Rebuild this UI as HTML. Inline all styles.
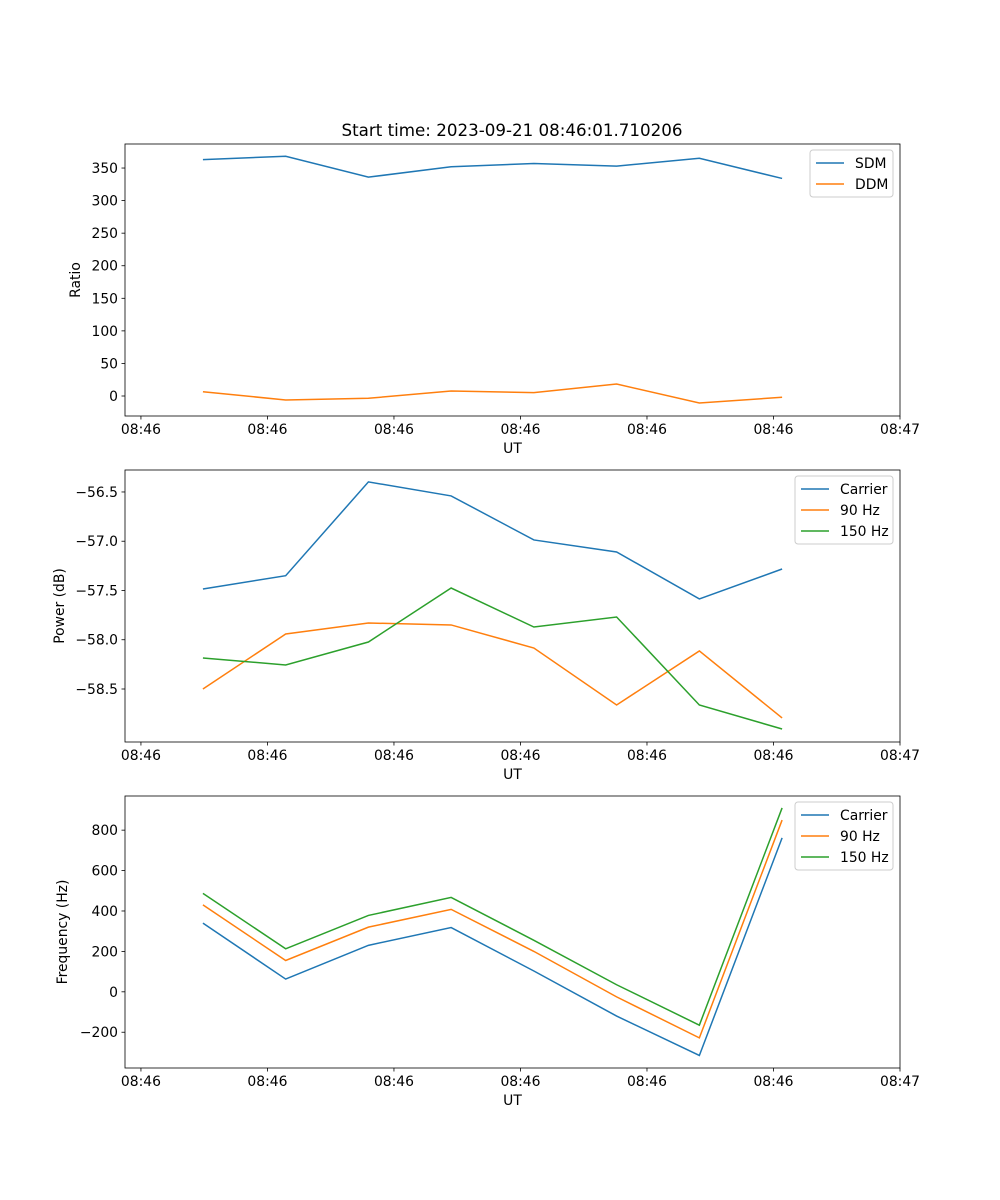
<!DOCTYPE html>
<html><head><meta charset="utf-8"><style>
body{margin:0;background:#fff}
svg{display:block}
text{font-family:"DejaVu Sans","Liberation Sans",sans-serif;font-size:13.9px;fill:#000}
</style></head><body>
<svg id="fig" width="1000" height="1200"></svg>
<script>
const times=[4.9,11.44,17.98,24.52,31.06,37.6,44.14,50.68];
const xTickVals=[0,10,20,30,40,50,60];
const xTickLabels=["08:46","08:46","08:46","08:46","08:46","08:46","08:47"];
const sdm=[363,368,336,352,357,353,365,334];
const ddm=[6.6,-6.1,-3.5,7.7,5.1,18.4,-10.7,-2.0];
const pCarrier=[-57.485,-57.350,-56.398,-56.540,-56.987,-57.109,-57.586,-57.282];
const p90=[-58.500,-57.942,-57.830,-57.850,-58.084,-58.662,-58.114,-58.794];
const p150=[-58.185,-58.256,-58.023,-57.475,-57.871,-57.769,-58.662,-58.906];
const fCarrier=[340,63,230,318,103,-120,-315,762];
const f90=[430,155,320,408,200,-25,-228,850];
const f150=[487,213,378,467,255,35,-165,910];
const ticks1=[0,50,100,150,200,250,300,350];
const ticks1Labels=["0","50","100","150","200","250","300","350"];
const ticks2=[-56.5,-57,-57.5,-58,-58.5];
const ticks2Labels=["\u221256.5","\u221257.0","\u221257.5","\u221258.0","\u221258.5"];
const ticks3=[-200,0,200,400,600,800];
const ticks3Labels=["\u2212200","0","200","400","600","800"];

const NS="http://www.w3.org/2000/svg";
const svg=document.getElementById('fig');
function mk(tag,attrs,parent){const e=document.createElementNS(NS,tag);for(const k in attrs)e.setAttribute(k,attrs[k]);(parent||svg).appendChild(e);return e;}
const L=125,R=900,XMIN=-1.26,XMAX=60;
const xs=t=>L+(t-XMIN)/(XMAX-XMIN)*(R-L);
const C=['#1f77b4','#ff7f0e','#2ca02c'];

function panel(name,top,bot,ymin,ymax,series,labels,yt,ytl,ylabel,legX,legW){
  const g=mk('g',{});
  
  
  const ys=v=>bot-(v-ymin)/(ymax-ymin)*(bot-top);
  series.forEach((s,i)=>{
    const p=mk('polyline',{points:s.map((v,j)=>xs(times[j])+','+ys(v)).join(' '),fill:'none',stroke:C[i],'stroke-width':1.5},g);
    
    
  });
  const fr=mk('rect',{x:L,y:top,width:R-L,height:bot-top,fill:'none',stroke:'#000','stroke-width':0.8},g);
  
  
  xTickVals.forEach((t,i)=>{const x=xs(t);mk('line',{x1:x,x2:x,y1:bot,y2:bot+3.5,stroke:'#000','stroke-width':0.8},g);
    const tx=mk('text',{x:x,y:bot+18,'text-anchor':'middle'},g);tx.textContent=xTickLabels[i];
    
    });
  yt.forEach((v,i)=>{const y=ys(v);mk('line',{x1:L-3.5,x2:L,y1:y,y2:y,stroke:'#000','stroke-width':0.8},g);
    const tx=mk('text',{x:L-7,y:y+5,'text-anchor':'end'},g);tx.textContent=ytl[i];
    
    });
  const xl=mk('text',{x:(L+R)/2,y:bot+37,'text-anchor':'middle'},g);xl.textContent='UT';
  
  
  const yl=mk('text',{x:0,y:0,'text-anchor':'middle',transform:`translate(${ylabel[1]},${(top+bot)/2}) rotate(-90)`},g);yl.textContent=ylabel[0];
  
  
  const lg=mk('g',{},g);
  
  
  const lh=labels.length*21+5;
  mk('rect',{x:legX,y:top+6,width:legW,height:lh,rx:3,fill:'#fff',stroke:'#ccc','stroke-width':1},lg);
  labels.forEach((lab,i)=>{const y=top+19+i*21;
    mk('line',{x1:legX+6,x2:legX+34,y1:y,y2:y,stroke:C[i],'stroke-width':1.5},lg);
    const t=mk('text',{x:legX+45,y:y+5},lg);t.textContent=lab;
    
    });
}
panel('ratio',144,416,-30.7,386.9,[sdm,ddm],['SDM','DDM'],ticks1,ticks1Labels,['Ratio',80],810,83);
panel('power',470,742,-59.038,-56.277,[pCarrier,p90,p150],['Carrier','90 Hz','150 Hz'],ticks2,ticks2Labels,['Power (dB)',64],795,98);
panel('frequency',796,1068,-377,969,[fCarrier,f90,f150],['Carrier','90 Hz','150 Hz'],ticks3,ticks3Labels,['Frequency (Hz)',67],795,98);
const title=mk('text',{x:512,y:136,'text-anchor':'middle',style:'font-size:16.7px'});
title.textContent='Start time: 2023-09-21 08:46:01.710206';


</script>
</body></html>
